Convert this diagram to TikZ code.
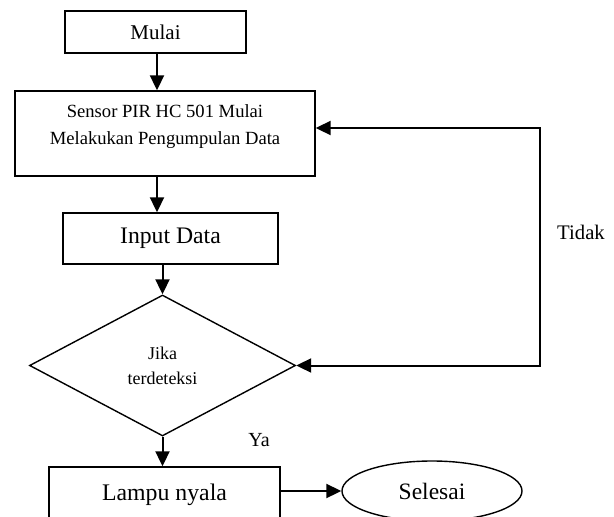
\documentclass[tikz,border=0pt]{standalone}
\usepackage{fontspec}
\setmainfont{Liberation Serif}
\usetikzlibrary{shapes.geometric,arrows.meta}

\begin{document}
\begin{tikzpicture}[x=1pt, y=-1pt,
    box/.style={draw, rectangle, inner sep=0pt, line width=1.4pt},
    arr/.style={line width=2pt, >={Triangle[length=15pt,width=14pt]}}]

  \useasboundingbox (0,0) rectangle (614,517);
  \clip (0,0) rectangle (614,517);

  % ==================================================
  % Main column of steps
  % ==================================================
  \node[box, minimum width=181pt, minimum height=42pt,
    font=\fontsize{21}{25}\selectfont] (mulai) at (155.5,32) {Mulai};
  \node[box, minimum width=300pt, minimum height=85pt,
    label={[font=\fontsize{18.6}{27}\selectfont, align=center, yshift=7pt]center:{Sensor PIR HC 501 Mulai\\Melakukan Pengumpulan Data}}]
    (sensor) at (165,133.5) {};
  \node[box, minimum width=215pt, minimum height=51pt,
    font=\fontsize{23.7}{28}\selectfont] (input) at (170.5,238.5) {Input Data};
  % -- Decision
  \node[diamond, draw, line width=1.4pt, inner sep=0pt, minimum width=266pt,
    minimum height=141pt, align=center,
    font=\fontsize{18}{25}\selectfont] (cek) at (162.5,365.5) {Jika\\terdeteksi};
  % -- End of the chart (cut by the page bottom)
  \node[box, minimum width=231pt, minimum height=56pt,
    font=\fontsize{23.8}{28}\selectfont] (lampu) at (164.5,495) {Lampu nyala};
  \node[ellipse, draw, line width=1.4pt, inner sep=0pt, minimum width=180pt,
    minimum height=60pt, font=\fontsize{23.5}{28}\selectfont] (selesai) at (432,491) {Selesai};

  % ==================================================
  % Connectors
  % ==================================================
  \coordinate (spineA) at (157,0);
  \coordinate (loopR) at (540,250);
  \draw[arr,->] (spineA |- mulai.south) -- (spineA |- sensor.north);
  \draw[arr,->] (spineA |- sensor.south) -- (spineA |- input.north);
  \draw[arr,->] (cek.north |- input.south) -- (cek.north);
  \draw[arr,->] (cek.south) -- (cek.south |- lampu.north);
  \draw[arr,->] (selesai.west -| lampu.east) -- (selesai.west);
  %    loop back when nothing is detected
  \draw[arr,<->] ([yshift=5.5pt]sensor.east) -| (loopR) |- (cek.east);

  % -- Labels on the branches
  \node[font=\fontsize{20.7}{25}\selectfont] (tidak) at (581,232) {Tidak};
  \node[font=\fontsize{20}{25}\selectfont] (ya) at (259,440) {Ya};

\end{tikzpicture}
\end{document}
